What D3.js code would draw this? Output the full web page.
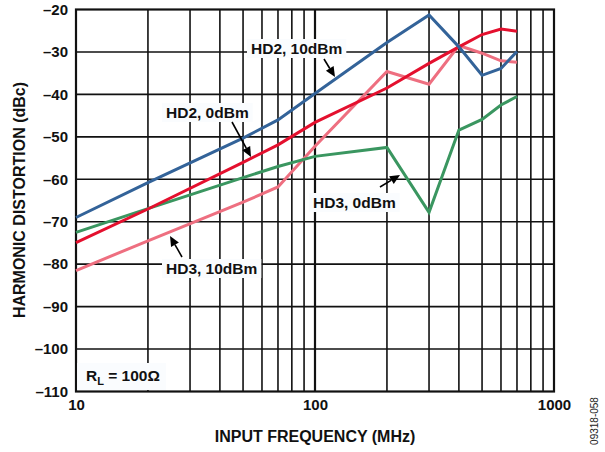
<!DOCTYPE html>
<html><head><meta charset="utf-8">
<script src="https://cdn.jsdelivr.net/npm/d3@7"></script>
<style>
html,body{margin:0;padding:0;background:#fff;}
svg{display:block;font-family:"Liberation Sans",Arial,sans-serif;}
</style></head>
<body>
<script>
const freqs = [10, 20, 50, 70, 100, 200, 300, 400, 500, 600, 700];
const hd2_10dBm = [-69, -60.8, -50.3, -46, -39.8, -27.8, -21.3, -28.8, -35.5, -33.9, -29.9];
const hd2_0dBm  = [-74.9, -67, -56, -51.9, -46.6, -38.5, -32.7, -28.8, -25.9, -24.6, -25.1];
const hd3_0dBm  = [-72.5, -66.9, -59.6, -57, -54.6, -52.5, -67.8, -48.4, -45.9, -42.5, -40.5];
const hd3_10dBm = [-81.5, -74.5, -65.4, -61.8, -52.2, -34.6, -37.6, -28.5, -30.3, -32.1, -32.4];
const yTicks = [-110, -100, -90, -80, -70, -60, -50, -40, -30, -20];
const xTickLabels = [10, 100, 1000];
const xGrid = [20,30,40,50,60,70,80,90,200,300,400,500,600,700,800,900];

(function () {
const W = 605, H = 452;
const pL = 76, pR = 554, pT = 9.5, pB = 391.5;
const svg = d3.select("body").append("svg").attr("width", W).attr("height", H);
const x = d3.scaleLog().domain([10, 1000]).range([pL, pR]);
const y = d3.scaleLinear().domain([-110, -20]).range([pB, pT]);

const grid = svg.append("g").attr("stroke", "#111").attr("fill", "none");
grid.selectAll("line.v").data(xGrid).enter().append("line")
  .attr("x1", d => x(d)).attr("x2", d => x(d)).attr("y1", pT).attr("y2", pB)
  .attr("stroke-width", 1.6);
grid.append("line").attr("x1", x(100)).attr("x2", x(100)).attr("y1", pT).attr("y2", pB).attr("stroke-width", 2.2);
grid.selectAll("line.h").data(yTicks.slice(1, -1)).enter().append("line")
  .attr("x1", pL).attr("x2", pR).attr("y1", d => y(d)).attr("y2", d => y(d))
  .attr("stroke-width", 1.6);
grid.append("rect").attr("x", pL).attr("y", pT).attr("width", pR - pL).attr("height", pB - pT)
  .attr("stroke-width", 2.2);

const xAxis = d3.axisBottom(x).tickValues(xTickLabels).tickFormat(d3.format("d")).tickSize(0).tickPadding(8);
const gx = svg.append("g").attr("transform", `translate(0,${pB})`).call(xAxis);
gx.select(".domain").remove();
gx.selectAll("text").attr("font-size", 15).attr("font-weight", "bold").attr("fill", "#111").attr("font-family", "Liberation Sans, Arial, sans-serif");

const yAxis = d3.axisLeft(y).tickValues(yTicks).tickFormat(d => "\u2013" + Math.abs(d)).tickSize(0).tickPadding(8);
const gy = svg.append("g").attr("transform", `translate(${pL},0)`).call(yAxis);
gy.select(".domain").remove();
gy.selectAll("text").attr("font-size", 15).attr("font-weight", "bold").attr("fill", "#111").attr("font-family", "Liberation Sans, Arial, sans-serif");

svg.append("text").attr("x", 315).attr("y", 442).attr("text-anchor", "middle")
  .attr("font-size", 16).attr("font-weight", "bold").attr("fill", "#111").text("INPUT FREQUENCY (MHz)");
svg.append("text").attr("transform", "translate(25,200) rotate(-90)").attr("text-anchor", "middle")
  .attr("font-size", 16).attr("font-weight", "bold").attr("fill", "#111").text("HARMONIC DISTORTION (dBc)");
svg.append("text").attr("transform", "translate(598,421) rotate(-90)").attr("text-anchor", "middle")
  .attr("font-size", 10).attr("fill", "#222").text("09318-058");

const series = [
  {vals: hd3_10dBm, color: "#ee6f80"},
  {vals: hd3_0dBm, color: "#3a9660"},
  {vals: hd2_0dBm, color: "#e4102e"},
  {vals: hd2_10dBm, color: "#336399"}
];
const line = d3.line().x((d, i) => x(freqs[i])).y(d => y(d));
svg.selectAll("path.s").data(series).enter().append("path")
  .attr("d", d => line(d.vals)).attr("fill", "none").attr("stroke", d => d.color)
  .attr("stroke-width", 3).attr("stroke-linejoin", "miter");

function label(txt, tx, ty) {
  const t = svg.append("text").attr("x", tx).attr("y", ty).attr("font-size", 15.5)
    .attr("font-weight", "bold").attr("fill", "#111").text(txt);
  const b = t.node().getBBox();
  svg.insert("rect", () => t.node()).attr("x", b.x - 4).attr("y", b.y - 1).attr("width", b.width + 8).attr("height", b.height + 2)
    .attr("fill", "#fafcfe");
}
label("HD2, 10dBm", 251, 54);
label("HD2, 0dBm", 166, 118);
label("HD3, 0dBm", 313, 208);
label("HD3, 10dBm", 166, 274);

const rl = svg.append("text").attr("x", 86).attr("y", 381).attr("font-size", 15.5).attr("font-weight", "bold").attr("fill", "#111");
rl.append("tspan").text("R");
rl.append("tspan").attr("font-size", 11).attr("dy", 4).text("L");
rl.append("tspan").attr("dy", -4).text(" = 100\u03A9");
const rb = rl.node().getBBox();
svg.insert("rect", () => rl.node()).attr("x", pL + 1.2).attr("y", 363).attr("width", rb.x + rb.width + 5 - pL).attr("height", 27).attr("fill", "#fafcfe");

function arrow(x1, y1, x2, y2) {
  const ang = Math.atan2(y2 - y1, x2 - x1);
  const L = 10, Wd = 4.5;
  const bx = x2 - L * Math.cos(ang), by = y2 - L * Math.sin(ang);
  svg.append("line").attr("x1", x1).attr("y1", y1).attr("x2", bx).attr("y2", by)
    .attr("stroke", "#000").attr("stroke-width", 1.6);
  const px = -Math.sin(ang) * Wd, py = Math.cos(ang) * Wd;
  svg.append("path").attr("d", `M${x2},${y2}L${bx + px},${by + py}L${bx - px},${by - py}Z`).attr("fill", "#000");
}
arrow(324, 59, 335, 77);
arrow(232, 122, 251, 157);
arrow(380, 187, 400, 175);
arrow(182, 257, 170, 236);
})();
</script>
</body></html>
